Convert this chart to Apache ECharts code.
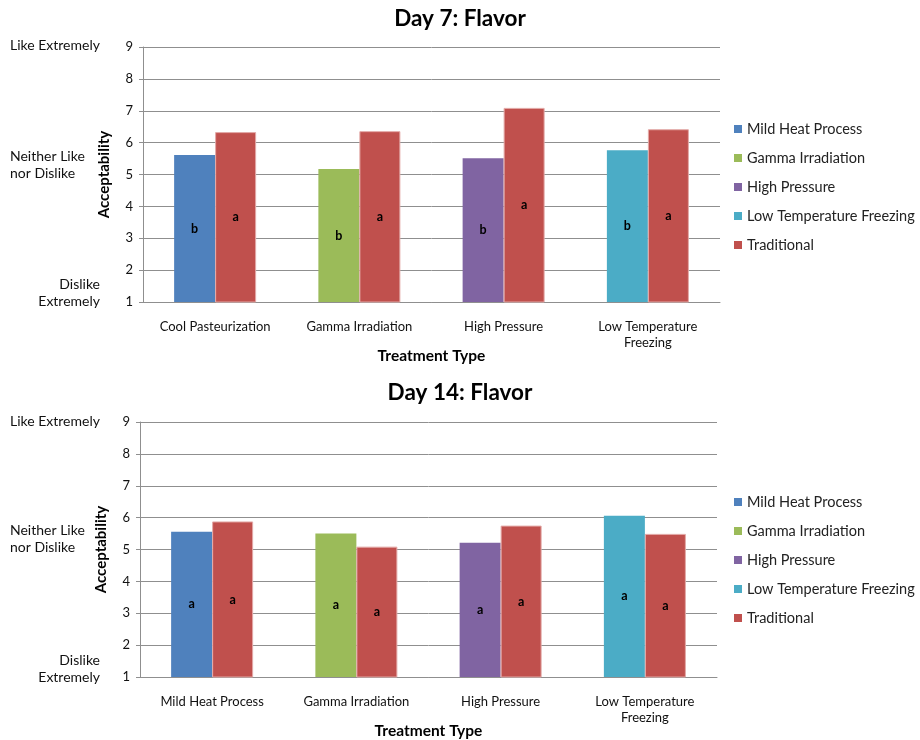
<!DOCTYPE html>
<html>
<head>
<meta charset="utf-8">
<script src="https://cdn.jsdelivr.net/npm/echarts@6/dist/echarts.min.js"></script>
<style>html,body{margin:0;padding:0;background:#fff;}#c{width:920px;height:740px;}</style>
</head>
<body>
<div id="c"></div>
<script>
const categoriesDay7 = ['Cool Pasteurization', 'Gamma Irradiation', 'High Pressure', 'Low Temperature\nFreezing'];
const categoriesDay14 = ['Mild Heat Process', 'Gamma Irradiation', 'High Pressure', 'Low Temperature\nFreezing'];
const seriesNames = ['Mild Heat Process', 'Gamma Irradiation', 'High Pressure', 'Low Temperature Freezing', 'Traditional'];
const treatmentDay7 = [5.61, 5.17, 5.51, 5.76];
const traditionalDay7 = [6.33, 6.36, 7.09, 6.42];
const treatmentDay14 = [5.56, 5.50, 5.21, 6.06];
const traditionalDay14 = [5.88, 5.09, 5.75, 5.49];
const lettersTreatmentDay7 = ['b', 'b', 'b', 'b'];
const lettersTraditionalDay7 = ['a', 'a', 'a', 'a'];
const lettersTreatmentDay14 = ['a', 'a', 'a', 'a'];
const lettersTraditionalDay14 = ['a', 'a', 'a', 'a'];
const yMin = 1, yMax = 9, yStep = 1;

const colors = ['#4F81BD', '#9BBB59', '#8064A2', '#4BACC6', '#C0504D'];
const FONT = 'Lato, "Open Sans", sans-serif';
const gridLineColor = '#8f8f8f';

function buildSeries(gi, treatment, traditional, lettersTrt, lettersTrad) {
  const out = [];
  for (let i = 0; i < 4; i++) {
    out.push({
      name: seriesNames[i], type: 'bar', xAxisIndex: gi, yAxisIndex: gi,
      stack: 'trt' + gi, barWidth: 41, barGap: '0%',
      itemStyle: { color: colors[i] },
      data: treatment.map((v, j) => j === i ? v : '-'),
      label: { show: true, position: 'inside', fontFamily: FONT, fontWeight: 'bold', fontSize: 12.5, color: '#000',
        formatter: p => lettersTrt[p.dataIndex] },
      animation: false
    });
  }
  out.push({
    name: seriesNames[4], type: 'bar', xAxisIndex: gi, yAxisIndex: gi,
    barWidth: 41, barGap: '0%',
    itemStyle: { color: colors[4], borderColor: '#e3a9a7', borderWidth: 1 },
    data: traditional.slice(),
    label: { show: true, position: 'inside', fontFamily: FONT, fontWeight: 'bold', fontSize: 12.5, color: '#000',
      formatter: p => lettersTrad[p.dataIndex] },
    animation: false
  });
  return out;
}

function xAxisCfg(gi, cats) {
  return {
    type: 'category', gridIndex: gi, data: cats,
    axisLine: { lineStyle: { color: gridLineColor, width: 1 } },
    axisTick: { show: false },
    axisLabel: { fontFamily: FONT, fontSize: 13, color: '#111', margin: 17, lineHeight: 16 },
    name: 'Treatment Type', nameLocation: 'middle', nameGap: 46, nameMoveOverlap: false,
    nameTextStyle: { fontFamily: FONT, fontWeight: 'bold', fontSize: 15.5, color: '#000' }
  };
}
function yAxisCfg(gi) {
  return {
    type: 'value', gridIndex: gi, min: yMin, max: yMax, interval: yStep,
    axisLine: { show: true, lineStyle: { color: gridLineColor, width: 1 } },
    axisTick: { show: true, length: 4, lineStyle: { color: gridLineColor } },
    splitLine: { lineStyle: { color: gridLineColor, width: 1 } },
    axisLabel: { fontFamily: FONT, fontSize: 13, color: '#111', margin: 10 },
    name: 'Acceptability', nameLocation: 'middle', nameGap: 31, nameRotate: 90, nameMoveOverlap: false,
    nameTextStyle: { fontFamily: FONT, fontWeight: 'bold', fontSize: 15, color: '#000' }
  };
}
function legendCfg(top) {
  return {
    orient: 'vertical', left: 729, top: top, itemWidth: 8, itemHeight: 8, itemGap: 13,
    icon: 'rect', data: seriesNames,
    itemStyle: { borderWidth: 0 },
    textStyle: { fontFamily: FONT, fontSize: 14.5, color: '#222', lineHeight: 16 },
    selectedMode: false
  };
}
function sideText(x, y, text, align) {
  return { type: 'text', x: x, y: y,
    style: { text: text, font: '14px ' + FONT, fill: '#111', textAlign: align, textVerticalAlign: 'middle', lineHeight: 17 } };
}

const chart = echarts.init(document.getElementById('c'), null, { renderer: 'canvas' });
chart.setOption({
  backgroundColor: '#fff',
  animation: false,
  title: [
    { text: 'Day 7: Flavor', left: 'center', top: 2, textStyle: { fontFamily: FONT, fontWeight: 'bold', fontSize: 22.5, color: '#000' } },
    { text: 'Day 14: Flavor', left: 'center', top: 376, textStyle: { fontFamily: FONT, fontWeight: 'bold', fontSize: 22.5, color: '#000' } }
  ],
  grid: [
    { left: 143, right: 200, top: 47, bottom: 438, outerBoundsMode: 'none' },
    { left: 140, right: 203, top: 422, bottom: 63, outerBoundsMode: 'none' }
  ],
  xAxis: [xAxisCfg(0, categoriesDay7), xAxisCfg(1, categoriesDay14)],
  yAxis: [yAxisCfg(0), yAxisCfg(1)],
  legend: [legendCfg(116), legendCfg(489)],
  graphic: [
    sideText(10, 45, 'Like Extremely', 'left'),
    sideText(10, 165, 'Neither Like\nnor Dislike', 'left'),
    sideText(100, 293, 'Dislike\nExtremely', 'right'),
    sideText(10, 421, 'Like Extremely', 'left'),
    sideText(10, 539, 'Neither Like\nnor Dislike', 'left'),
    sideText(100, 669, 'Dislike\nExtremely', 'right')
  ],
  series: buildSeries(0, treatmentDay7, traditionalDay7, lettersTreatmentDay7, lettersTraditionalDay7)
    .concat(buildSeries(1, treatmentDay14, traditionalDay14, lettersTreatmentDay14, lettersTraditionalDay14))
});
</script>
</body>
</html>
